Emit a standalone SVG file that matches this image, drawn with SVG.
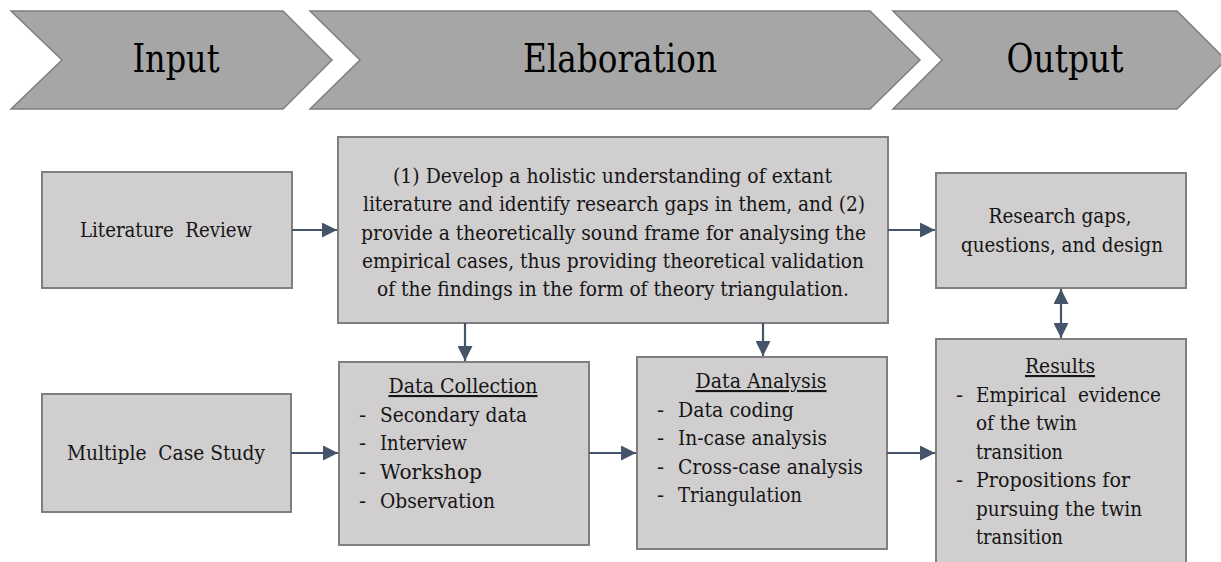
<svg xmlns="http://www.w3.org/2000/svg" width="1221" height="562" viewBox="0 0 1221 562">
<defs>
<marker id="ah" viewBox="0 0 10 10" refX="10" refY="5" markerWidth="15" markerHeight="15" orient="auto-start-reverse" markerUnits="userSpaceOnUse">
<path d="M0,0 L10,5 L0,10 z" fill="#44546a"/>
</marker>
<style>
.chev{fill:#a6a6a6;stroke:#7f7f7f;stroke-width:1.5}
.box{fill:#d0cece;stroke:#7f7f7f;stroke-width:2}
text{font-family:"DejaVu Serif",serif}
.h{font-size:40px;fill:#000;text-anchor:middle}
.t{font-size:21px;fill:#151515}
.c{text-anchor:middle}
.u{text-decoration:underline}
.con{stroke:#44546a;stroke-width:2.2;fill:none;marker-end:url(#ah)}
</style>
</defs>
<rect width="1221" height="562" fill="#fff"/>
<g id="chevron-input">
<polygon class="chev" points="11,11 283,11 332,60 283,109 11,109 62,60"/>
<text class="h" x="176" y="72" textLength="87" lengthAdjust="spacingAndGlyphs">Input</text>
</g>
<g id="chevron-elaboration">
<polygon class="chev" points="310,11 870,11 920,60 870,109 310,109 360,60"/>
<text class="h" x="620" y="72" textLength="194" lengthAdjust="spacingAndGlyphs">Elaboration</text>
</g>
<g id="chevron-output">
<polygon class="chev" points="893,11 1177,11 1226,60 1177,109 893,109 942,60"/>
<text class="h" x="1065" y="72" textLength="117" lengthAdjust="spacingAndGlyphs">Output</text>
</g>
<g id="literature-review">
<rect class="box" x="42" y="172" width="250" height="116"/>
<text class="t c" x="166" y="237" xml:space="preserve" textLength="172" lengthAdjust="spacingAndGlyphs">Literature  Review</text>
</g>
<g id="theory-box">
<rect class="box" x="338" y="137" width="550" height="186"/>
<text class="t" x="393" y="183" textLength="439" lengthAdjust="spacingAndGlyphs">(1) Develop a holistic understanding of extant</text>
<text class="t" x="363" y="211" textLength="502" lengthAdjust="spacingAndGlyphs">literature and identify research gaps in them, and (2)</text>
<text class="t" x="361" y="240" textLength="505" lengthAdjust="spacingAndGlyphs">provide a theoretically sound frame for analysing the</text>
<text class="t" x="362" y="268" textLength="502" lengthAdjust="spacingAndGlyphs">empirical cases, thus providing theoretical validation</text>
<text class="t" x="377" y="296" textLength="472" lengthAdjust="spacingAndGlyphs">of the findings in the form of theory triangulation.</text>
</g>
<g id="research-gaps">
<rect class="box" x="936" y="173" width="250" height="115"/>
<text class="t c" x="1060" y="223" textLength="143" lengthAdjust="spacingAndGlyphs">Research gaps,</text>
<text class="t c" x="1062" y="252" textLength="202" lengthAdjust="spacingAndGlyphs">questions, and design</text>
</g>
<g id="multiple-case-study">
<rect class="box" x="42" y="394" width="249" height="118"/>
<text class="t c" x="166" y="460" xml:space="preserve" textLength="198" lengthAdjust="spacingAndGlyphs">Multiple  Case Study</text>
</g>
<g id="data-collection">
<rect class="box" x="339" y="362" width="250" height="183"/>
<text class="t c u" x="463" y="393" textLength="149" lengthAdjust="spacingAndGlyphs">Data Collection</text>
<text class="t" x="359" y="422">-</text><text class="t" x="380" y="422" textLength="147" lengthAdjust="spacingAndGlyphs">Secondary data</text>
<text class="t" x="359" y="450">-</text><text class="t" x="380" y="450" textLength="87" lengthAdjust="spacingAndGlyphs">Interview</text>
<text class="t" x="359" y="479">-</text><text class="t" x="380" y="479" textLength="102" lengthAdjust="spacingAndGlyphs">Workshop</text>
<text class="t" x="359" y="508">-</text><text class="t" x="380" y="508" textLength="115" lengthAdjust="spacingAndGlyphs">Observation</text>
</g>
<g id="data-analysis">
<rect class="box" x="637" y="357" width="250" height="192"/>
<text class="t c u" x="761" y="388" textLength="131" lengthAdjust="spacingAndGlyphs">Data Analysis</text>
<text class="t" x="657" y="417">-</text><text class="t" x="678" y="417" textLength="116" lengthAdjust="spacingAndGlyphs">Data coding</text>
<text class="t" x="657" y="445">-</text><text class="t" x="678" y="445" textLength="149" lengthAdjust="spacingAndGlyphs">In-case analysis</text>
<text class="t" x="657" y="474">-</text><text class="t" x="678" y="474" textLength="185" lengthAdjust="spacingAndGlyphs">Cross-case analysis</text>
<text class="t" x="657" y="502">-</text><text class="t" x="678" y="502" textLength="124" lengthAdjust="spacingAndGlyphs">Triangulation</text>
</g>
<g id="results">
<rect class="box" x="936" y="339" width="250" height="240"/>
<text class="t c u" x="1060" y="373" textLength="70" lengthAdjust="spacingAndGlyphs">Results</text>
<text class="t" x="956" y="402">-</text><text class="t" x="976" y="402" xml:space="preserve" textLength="185" lengthAdjust="spacingAndGlyphs">Empirical  evidence</text>
<text class="t" x="976" y="430" textLength="101" lengthAdjust="spacingAndGlyphs">of the twin</text>
<text class="t" x="976" y="459" textLength="87" lengthAdjust="spacingAndGlyphs">transition</text>
<text class="t" x="956" y="487">-</text><text class="t" x="976" y="487" textLength="154" lengthAdjust="spacingAndGlyphs">Propositions for</text>
<text class="t" x="976" y="516" textLength="166" lengthAdjust="spacingAndGlyphs">pursuing the twin</text>
<text class="t" x="976" y="544" textLength="87" lengthAdjust="spacingAndGlyphs">transition</text>
</g>
<g id="connectors">
<line class="con" x1="292" y1="230" x2="337" y2="230"/>
<line class="con" x1="888" y1="230" x2="935" y2="230"/>
<line class="con" x1="465" y1="323" x2="465" y2="361"/>
<line class="con" x1="763" y1="323" x2="763" y2="356"/>
<line class="con" x1="291" y1="453" x2="338" y2="453"/>
<line class="con" x1="589" y1="453" x2="636" y2="453"/>
<line class="con" x1="887" y1="453" x2="935" y2="453"/>
<line class="con" x1="1061" y1="289" x2="1061" y2="338" marker-start="url(#ah)"/>
</g>
</svg>
